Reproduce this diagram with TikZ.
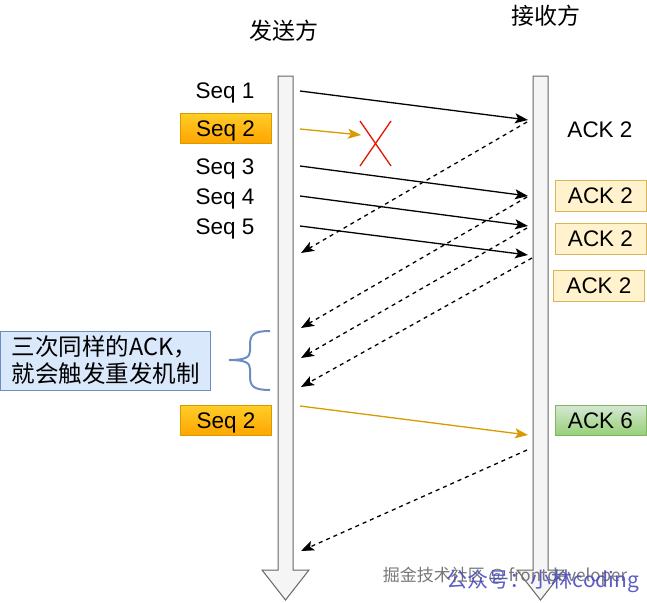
\documentclass[tikz,border=0pt]{standalone}
\usepackage{fontspec}
\setmainfont{Liberation Sans}
\newfontfamily\cjk{Noto Sans CJK SC}
\usetikzlibrary{arrows.meta,calc}
\definecolor{barfill}{HTML}{F5F5F5}
\definecolor{barline}{HTML}{666666}
\definecolor{orangeline}{HTML}{D79B00}
\definecolor{orangetop}{HTML}{FFCD28}
\definecolor{orangebot}{HTML}{FFA500}
\definecolor{yfill}{HTML}{FFF2CC}
\definecolor{yline}{HTML}{D6B656}
\definecolor{gtop}{HTML}{D5E8D4}
\definecolor{gbot}{HTML}{97D077}
\definecolor{gline}{HTML}{82B366}
\definecolor{bfill}{HTML}{DAE8FC}
\definecolor{bline}{HTML}{6C8EBF}
\definecolor{crossred}{HTML}{E51400}
\definecolor{wmblue}{HTML}{4B4BC0}
\definecolor{wmgray}{HTML}{777777}
\tikzset{
  lbl/.style={font=\fontsize{22.5}{26}\selectfont, inner sep=0pt, text height=16pt, text depth=0pt},
  head/.style={font=\cjk\fontsize{23}{27}\selectfont, inner sep=0pt},
  seqbox/.style={lbl, draw=orangeline, top color=orangetop, bottom color=orangebot, minimum width=91pt, minimum height=30pt, line width=0.8pt},
  ackbox/.style={lbl, draw=yline, fill=yfill, minimum width=91pt, minimum height=31pt, line width=0.8pt},
  ackgreen/.style={lbl, draw=gline, top color=gtop, bottom color=gbot, minimum width=91pt, minimum height=30pt, line width=0.8pt},
  bar/.style={draw=barline, fill=barfill, line width=1pt},
  msg/.style={line width=1.3pt, -{Stealth[length=13pt,width=10pt,inset=3pt]}},
  ack/.style={line width=1.3pt, dash pattern=on 4pt off 4pt, -{Stealth[length=13pt,width=10pt,inset=3pt]}},
}
\begin{document}
\begin{tikzpicture}[x=1pt,y=-1pt]
\useasboundingbox (0,0) rectangle (647,602);
% bars
\draw[bar] (278,76) -- (293,76) -- (293,570) -- (309,570) -- (285.5,600) -- (262,570) -- (278,570) -- cycle;
\draw[bar] (533,76) -- (548,76) -- (548,570) -- (564,570) -- (540.5,600) -- (517,570) -- (533,570) -- cycle;
% headings
\node[head] (snd) at (284,31) {发送方};
\node[head] (rcv) at (546,16) {接收方};
% sender labels
\node[lbl] (s1) at (225,90.5) {Seq 1};
\node[seqbox] (s2) at (225.5,128) {Seq 2};
\node[lbl] (s3) at (225,166) {Seq 3};
\node[lbl] (s4) at (225,196) {Seq 4};
\node[lbl] (s5) at (225,226) {Seq 5};
\node[seqbox] (s2b) at (226,420.5) {Seq 2};
% receiver labels
\node[lbl] (a1) at (600,129.5) {ACK 2};
\node[ackbox] (a2) at (600.5,195.5) {ACK 2};
\node[ackbox] (a3) at (600.5,238.5) {ACK 2};
\node[ackbox] (a4) at (599,285.5) {ACK 2};
\node[ackgreen] (a6) at (600.5,420) {ACK 6};
% note
\node[draw=bline, fill=bfill, line width=0.8pt, minimum width=210pt, minimum height=59pt, align=left, inner sep=0pt,
      font=\cjk\fontsize{23.5}{27}\selectfont] (note) at (105.5,360.5) {三次同样的ACK，\\就会触发重发机制};
\draw[bline, line width=2pt] (270,331) .. controls (253,331) and (250,335) .. (250,345) -- (250,351)
  .. controls (250,357) and (246,360) .. (229,360)
  .. controls (246,360) and (250,363) .. (250,369) -- (250,376)
  .. controls (250,386) and (253,390) .. (270,390);
% endpoints
\coordinate (p1s) at (300,91);   \coordinate (p1e) at (528,120);
\coordinate (p2s) at (300,129);  \coordinate (p2e) at (361,135);
\coordinate (p3s) at (300,166);  \coordinate (p3e) at (528,196);
\coordinate (p4s) at (300,196);  \coordinate (p4e) at (528,226);
\coordinate (p5s) at (300,226);  \coordinate (p5e) at (528,255);
\coordinate (p6s) at (300,406);  \coordinate (p6e) at (528,435);
\coordinate (r1s) at (527,122);  \coordinate (r1e) at (301,253);
\coordinate (r2s) at (527,197);  \coordinate (r2e) at (301,328);
\coordinate (r3s) at (527,228);  \coordinate (r3e) at (301,358);
\coordinate (r4s) at (532,258);  \coordinate (r4e) at (301,387);
\coordinate (r5s) at (527,450);  \coordinate (r5e) at (301,551);
% messages
\draw[msg] (p1s) -- (p1e);
\draw[msg, orangeline] (p2s) -- (p2e);
\draw[msg] (p3s) -- (p3e);
\draw[msg] (p4s) -- (p4e);
\draw[msg] (p5s) -- (p5e);
\draw[msg, orangeline] (p6s) -- (p6e);
\draw[ack] (r1s) -- (r1e);
\draw[ack] (r2s) -- (r2e);
\draw[ack] (r3s) -- (r3e);
\draw[ack] (r4s) -- (r4e);
\draw[ack] (r5s) -- (r5e);
% lost packet
\coordinate (x1) at (360,121); \coordinate (x2) at (391,166);
\coordinate (x3) at (391,121); \coordinate (x4) at (360,166);
\draw[crossred, line width=1.3pt] (x1) -- (x2);
\draw[crossred, line width=1.3pt] (x3) -- (x4);
% watermarks
\node[font=\cjk\fontsize{17}{20}\selectfont, text=wmgray, inner sep=0pt] (wm1) at (505,576) {掘金技术社区 @ frontdeveloper};
\node[font=\cjk\fontsize{21}{24}\selectfont, text=wmblue, inner sep=0pt, opacity=0.9] (wm2) at (543,581) {公众号：小林coding};
\end{tikzpicture}
\end{document}
